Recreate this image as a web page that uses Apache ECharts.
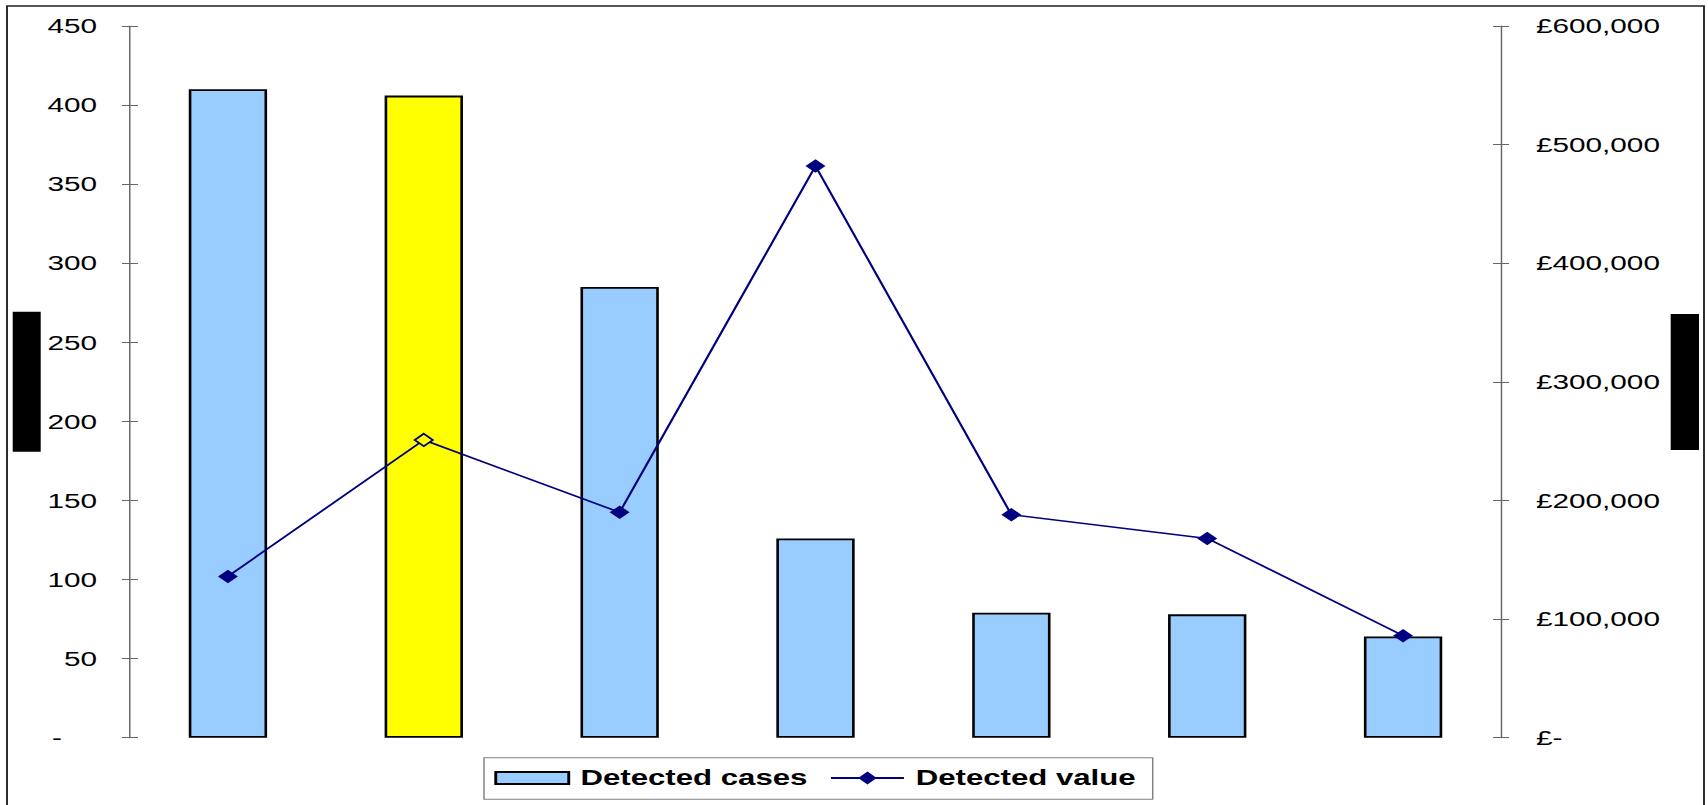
<!DOCTYPE html>
<html>
<head>
<meta charset="utf-8">
<title>Detected cases and value</title>
<script src="https://cdn.jsdelivr.net/npm/echarts@6/dist/echarts.min.js"></script>
<style>
  html, body { margin: 0; padding: 0; background: #fff; overflow: hidden; }
  #chart { height: 805px; transform-origin: 0 0; }
</style>
</head>
<body>
<div id="chart"></div>
<script>
// ---- data ----
const categories = ['1', '2', '3', '4', '5', '6', '7'];
const detectedCases = [410, 406, 285, 126, 79, 78, 64];
const detectedValue = [136000, 251000, 190000, 482000, 188000, 168000, 86000];
const highlightIndex = 1;               // the highlighted period
const casesAxis = { min: 0, max: 450, interval: 50 };
const valueAxis = { min: 0, max: 600000, interval: 100000 };
const seriesNames = ['Detected cases', 'Detected value'];

// ---- layout: the chart is laid out narrow and stretched horizontally ----
const SX = 1.45;
const W = 1708 / SX;
const H = 805;
const el = document.getElementById('chart');
el.style.width = W + 'px';
el.style.transform = 'scaleX(' + SX + ')';

const FONT = '"Liberation Sans", Arial, sans-serif';
const AXIS_GRAY = '#666';
const NAVY = '#000080';
const BAR_BLUE = '#99CCFF';
const YELLOW = '#FFFF00';
const x = v => v / SX;   // horizontal page pixels -> chart pixels

const tickLen = x(8);

// accounting-style labels: zero shown as a dash set in from the right
function casesLabel(v) { return v === 0 ? '{zero|-}' : String(v); }
function valueLabel(v) { return v === 0 ? '£-' : '£' + v.toLocaleString('en-GB'); }

const labelStyle = { color: '#000', fontFamily: FONT, fontSize: 20.5 };

function yAxisPair(cfg, position, margin, formatter, rich) {
  return [
    {
      type: 'value', position: position, min: cfg.min, max: cfg.max, interval: cfg.interval,
      splitLine: { show: false },
      axisLine: { show: true, lineStyle: { color: AXIS_GRAY, width: 1 } },
      axisTick: { show: true, inside: false, length: tickLen, lineStyle: { color: AXIS_GRAY, width: 1 } },
      axisLabel: Object.assign({ margin: margin, formatter: formatter, rich: rich || {} }, labelStyle)
    },
    {
      type: 'value', position: position, min: cfg.min, max: cfg.max, interval: cfg.interval,
      splitLine: { show: false },
      axisLine: { show: false },
      axisTick: { show: true, inside: true, length: tickLen, lineStyle: { color: AXIS_GRAY, width: 1 } },
      axisLabel: { show: false }
    }
  ];
}

const leftAxes = yAxisPair(casesAxis, 'left', x(33), casesLabel, {
  zero: { color: '#000', fontFamily: FONT, fontSize: 20.5, padding: [0, x(35), 0, 0] }
});
const rightAxes = yAxisPair(valueAxis, 'right', x(35), valueLabel);

const barData = detectedCases.map((v, i) => i === highlightIndex
  ? { value: v, itemStyle: { color: YELLOW } }
  : v);

const lineData = detectedValue.map((v, i) => i === highlightIndex
  ? { value: v, symbolSize: [x(18), 12.5], itemStyle: { color: YELLOW, borderColor: NAVY, borderWidth: 1.6 } }
  : v);

const legendText = { color: '#000', fontFamily: FONT, fontSize: 21.5, fontWeight: 'bold', padding: [0, 0, 0, x(4.5)] };

const chart = echarts.init(el, null, { renderer: 'svg', width: W, height: H });
chart.setOption({
  animation: false,
  backgroundColor: '#fff',
  grid: { left: x(130), right: x(1708 - 1501), top: 26, bottom: H - 737.7, containLabel: false },
  xAxis: {
    type: 'category', data: categories,
    axisLine: { show: false }, axisTick: { show: false }, axisLabel: { show: false },
    splitLine: { show: false }
  },
  // 0: cases (left), 1: value (right), 2-3: inner tick halves
  yAxis: [leftAxes[0], rightAxes[0], leftAxes[1], rightAxes[1]],
  legend: [
    {
      data: [seriesNames[0]], icon: 'rect', selectedMode: false,
      left: x(494.3), top: 767, padding: 0, itemGap: 0,
      itemWidth: x(73), itemHeight: 12, textStyle: legendText
    },
    {
      data: [seriesNames[1]], selectedMode: false,
      left: x(829.5), top: 767, padding: 0, itemGap: 0,
      itemWidth: x(73), itemHeight: 16, textStyle: legendText
    }
  ],
  series: [
    {
      name: seriesNames[0], type: 'bar', yAxisIndex: 0, data: barData,
      barWidth: '40%',
      itemStyle: { color: BAR_BLUE, borderColor: '#000', borderWidth: 1.8 },
      emphasis: { disabled: true }
    },
    {
      name: seriesNames[1], type: 'line', yAxisIndex: 1, data: lineData,
      symbol: 'diamond', symbolSize: [x(20), 13.5],
      lineStyle: { color: NAVY, width: 1.6 },
      itemStyle: { color: NAVY },
      emphasis: { disabled: true },
      z: 5
    }
  ],
  graphic: [
    { // outer frame
      type: 'rect', silent: true, z: 100,
      shape: { x: x(7), y: 6, width: x(1704 - 7), height: 900 },
      style: { fill: 'none', stroke: '#222', lineWidth: 1.3 }
    },
    { // legend frame
      type: 'rect', silent: true, z: 100,
      shape: { x: x(484), y: 757.7, width: x(1152.7 - 484), height: 41.6 },
      style: { fill: 'none', stroke: '#808080', lineWidth: 1 }
    },
    { // left axis title block
      type: 'rect', silent: true, z: 100,
      shape: { x: x(12.7), y: 311.7, width: x(28), height: 140 },
      style: { fill: '#000' }
    },
    { // right axis title block
      type: 'rect', silent: true, z: 100,
      shape: { x: x(1670.7), y: 314, width: x(28.3), height: 136 },
      style: { fill: '#000' }
    }
  ]
});
</script>
</body>
</html>
